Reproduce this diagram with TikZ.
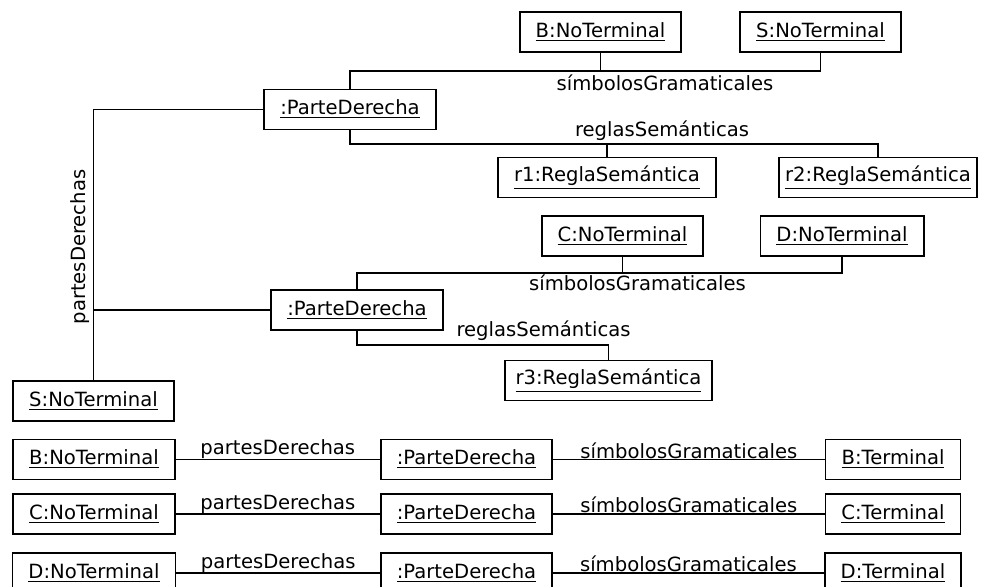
\documentclass[tikz,border=0pt]{standalone}
\usepackage{fontspec}
\setmainfont{DejaVu Sans}
\usepackage{tikz}

\begin{document}
\begin{tikzpicture}[x=0.5pt,y=-0.5pt,line width=0.9pt,
  obj/.style={draw,inner xsep=8pt,inner ysep=0pt,minimum height=20pt,
    font=\fontsize{9.8}{11}\selectfont},
  rol/.style={inner sep=0pt,font=\fontsize{9.8}{11}\selectfont}]
  % Marco en px de la figura (985 x 587)
  \useasboundingbox (0,0) rectangle (985,587);
  % Primera parte derecha de S
  \node[obj] (pd1) at (350,109.5) {\underline{:ParteDerecha}};
  \node[obj] (b1) at (600.5,32) {\underline{B:NoTerminal}};
  \node[obj] (s1) at (820.5,32) {\underline{S:NoTerminal}};
  \node[obj] (r1) at (607,177.5) {\underline{r1:ReglaSemántica}};
  \node[obj,inner xsep=3pt] (r2) at (878,177.5) {\underline{r2:ReglaSemántica}};
  \draw (pd1.north) -- (pd1.north |- 0,71) -| (s1.south);
  \draw (b1.south) -- (b1.south |- 0,71);
  \node[rol,anchor=base] (sg1) at (665,91) {símbolosGramaticales};
  \draw (pd1.south) -- (pd1.south |- 0,144) -| (r2.north);
  \draw (r1.north) -- (r1.north |- 0,144);
  \node[rol,anchor=base] (rs1) at (662,137) {reglasSemánticas};
  % Segunda parte derecha de S
  \node[obj] (pd2) at (357,310) {\underline{:ParteDerecha}};
  \node[obj] (c1) at (622.5,236) {\underline{C:NoTerminal}};
  \node[obj] (d1) at (842,236) {\underline{D:NoTerminal}};
  \node[obj,inner xsep=5.5pt] (r3) at (608.5,380.5) {\underline{r3:ReglaSemántica}};
  \draw (pd2.north) -- (pd2.north |- 0,273) -| (d1.south);
  \draw (c1.south) -- (c1.south |- 0,273);
  \node[rol,anchor=base] (sg2) at (637.5,291) {símbolosGramaticales};
  \draw (pd2.south) -- (pd2.south |- 0,345) -| (r3.north);
  \node[rol,anchor=base] (rs2) at (543.5,337) {reglasSemánticas};
  % S y sus partes derechas
  \node[obj] (snt) at (93.5,401) {\underline{S:NoTerminal}};
  \draw (snt.north) -- (snt.north |- pd1.west) -- (pd1.west);
  \draw (snt.north |- pd2.west) -- (pd2.west);
  \node[rol,rotate=90] (pds) at (80,247) {partesDerechas};
  % B -> b
  \node[obj] (bnt) at (94,459.5) {\underline{B:NoTerminal}};
  \node[obj] (pdb) at (466.5,459.5) {\underline{:ParteDerecha}};
  \node[obj] (bt) at (893,459.5) {\underline{B:Terminal}};
  \draw (bnt) -- node[rol,above] {partesDerechas} (pdb);
  \draw (pdb) -- node[rol,above] {símbolosGramaticales} (bt);
  % C -> c
  \node[obj] (cnt) at (94,514) {\underline{C:NoTerminal}};
  \node[obj] (pdc) at (466.5,514) {\underline{:ParteDerecha}};
  \node[obj] (ct) at (893,514) {\underline{C:Terminal}};
  \draw (cnt) -- node[rol,above] {partesDerechas} (pdc);
  \draw (pdc) -- node[rol,above] {símbolosGramaticales} (ct);
  % D -> d
  \node[obj] (dnt) at (94,573) {\underline{D:NoTerminal}};
  \node[obj] (pdd) at (466.5,573) {\underline{:ParteDerecha}};
  \node[obj] (dt) at (893,573) {\underline{D:Terminal}};
  \draw (dnt) -- node[rol,above] {partesDerechas} (pdd);
  \draw (pdd) -- node[rol,above] {símbolosGramaticales} (dt);
\end{tikzpicture}
\end{document}
